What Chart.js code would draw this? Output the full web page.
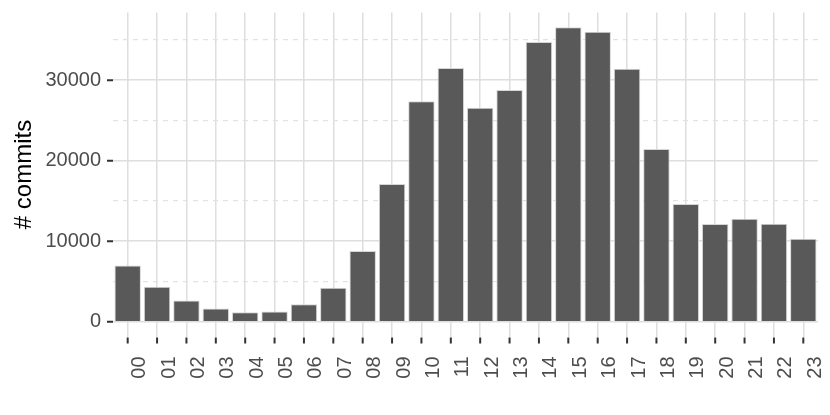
<!DOCTYPE html>
<html>
<head>
<meta charset="utf-8">
<script src="https://cdn.jsdelivr.net/npm/chart.js@4.4.0/dist/chart.umd.min.js"></script>
<style>
  body { margin: 0; background: #ffffff; }
</style>
</head>
<body>
<canvas id="hourChart" width="830" height="415"></canvas>
<script>
// commits per hour of day
const hours = ['00', '01', '02', '03', '04', '05', '06', '07', '08', '09', '10', '11',
  '12', '13', '14', '15', '16', '17', '18', '19', '20', '21', '22', '23'];
const commits = [7000, 4350, 2640, 1650, 1190, 1280, 2180, 4210, 8800, 17100, 27390, 31510,
  26560, 28790, 34730, 36560, 36010, 31430, 21440, 14620, 12140, 12800, 12180, 10320];
const majorTicks = [0, 10000, 20000, 30000];
const minorTicks = [5000, 15000, 25000, 35000];
const yMin = -1830;
const yMax = 38400;

const tickFont = { family: 'Liberation Sans, Arial, sans-serif', size: 20 };

// drop the automatic label padding so the panel sits where we want it
function noPad(scale) {
  scale.paddingTop = 0;
  scale.paddingBottom = 0;
  scale.paddingLeft = 0;
  scale.paddingRight = 0;
}

// small dark tick marks outside the panel, like ggplot
const tickMarks = {
  id: 'tickMarks',
  afterDraw(chart) {
    const c = chart.ctx;
    const area = chart.chartArea;
    const xs = chart.scales.x;
    const ys = chart.scales.y;
    c.save();
    c.setLineDash([]);
    c.strokeStyle = '#333333';
    c.lineWidth = 2;
    c.beginPath();
    hours.forEach((h, i) => {
      const px = xs.getPixelForValue(i);
      c.moveTo(px, area.bottom + 1);
      c.lineTo(px, area.bottom + 7);
    });
    majorTicks.forEach(v => {
      const py = ys.getPixelForValue(v);
      c.moveTo(area.left - 6, py);
      c.lineTo(area.left, py);
    });
    c.stroke();
    c.restore();
  }
};

const ctx = document.getElementById('hourChart').getContext('2d');
const hourChart = new Chart(ctx, {
  type: 'bar',
  data: {
    labels: hours,
    datasets: [{
      label: '# commits',
      data: commits,
      backgroundColor: '#595959',
      borderColor: '#d6d6d6',
      borderWidth: 1,
      barPercentage: 0.9,
      categoryPercentage: 1.0,
      yAxisID: 'y'
    }]
  },
  options: {
    responsive: false,
    animation: false,
    layout: {
      padding: { top: 12.5, right: 12, left: 0, bottom: 0 }
    },
    scales: {
      x: {
        grid: {
          offset: false,
          color: '#dedede',
          lineWidth: 1.5,
          drawTicks: false
        },
        border: { display: false },
        ticks: {
          minRotation: 90,
          maxRotation: 90,
          autoSkip: false,
          padding: 20,
          labelOffset: 12,
          color: '#4d4d4d',
          font: tickFont
        },
        afterFit: (scale) => { scale.height = 78.5; noPad(scale); }
      },
      y: {
        min: yMin,
        max: yMax,
        afterBuildTicks: (scale) => { scale.ticks = majorTicks.map(v => ({ value: v })); },
        grid: {
          color: '#dedede',
          lineWidth: 1.5,
          drawTicks: false
        },
        border: { display: false },
        ticks: {
          padding: 12,
          color: '#4d4d4d',
          font: tickFont,
          callback: (v) => String(v)
        },
        title: {
          display: true,
          text: '# commits',
          color: '#000000',
          font: { family: 'Liberation Sans, Arial, sans-serif', size: 24 },
          padding: { top: 10, bottom: 0 }
        },
        afterFit: (scale) => { scale.width = 113; noPad(scale); }
      },
      y2: {
        position: 'left',
        min: yMin,
        max: yMax,
        afterBuildTicks: (scale) => { scale.ticks = minorTicks.map(v => ({ value: v })); },
        grid: {
          color: '#e2e2e2',
          lineWidth: 1.2,
          drawTicks: false
        },
        border: { display: false, dash: [5, 5] },
        ticks: { display: false },
        afterFit: (scale) => { scale.width = 0; noPad(scale); }
      }
    },
    plugins: {
      legend: { display: false },
      tooltip: { enabled: false }
    }
  },
  plugins: [tickMarks]
});
</script>
</body>
</html>
